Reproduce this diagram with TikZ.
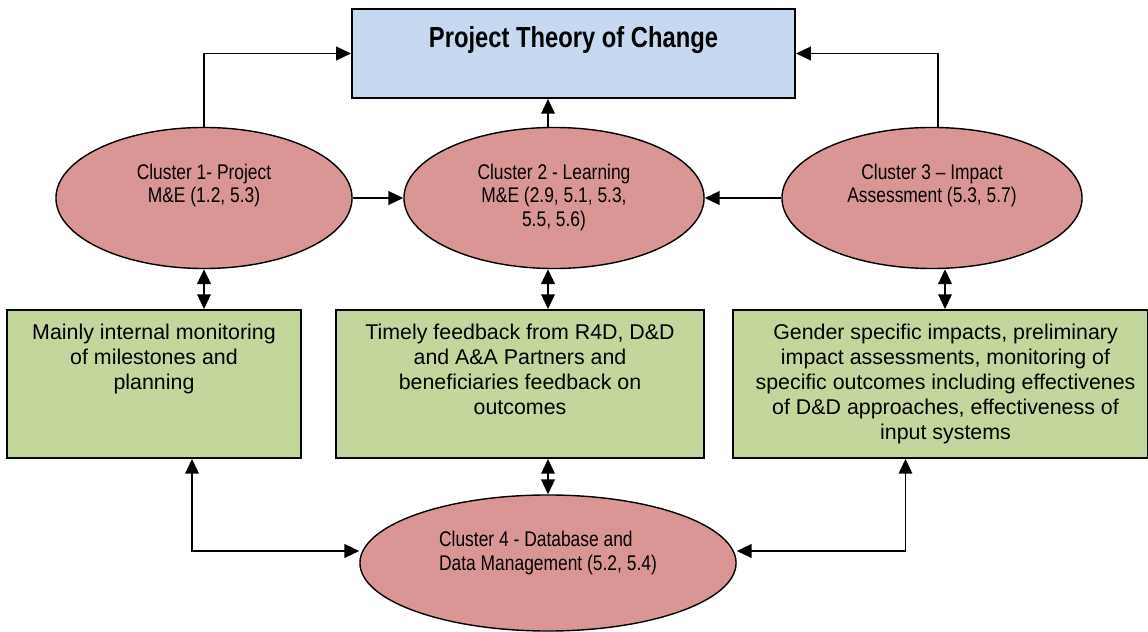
\documentclass[tikz,border=0pt]{standalone}
\usepackage{fontspec}
\setmainfont{Liberation Sans}
\newfontfamily\narrowfont[FakeStretch=0.82]{Liberation Sans}
\usepackage{xcolor}
\usetikzlibrary{positioning,arrows.meta,shapes.geometric}
\definecolor{tocblue}{HTML}{C6D9F1}
\definecolor{clusterred}{HTML}{D99694}
\definecolor{findgreen}{HTML}{C3D69B}

\begin{document}
\begin{tikzpicture}[x=0.025cm, y=0.025cm,
    cluster/.style={ellipse, draw, line width=1pt, fill=clusterred, minimum height=3.525cm, inner sep=0pt},
    clustertext/.style={inner sep=0pt, align=center, font=\narrowfont\fontsize{15.1}{16.6}\selectfont},
    findbox/.style={rectangle, draw, line width=1.3pt, fill=findgreen, minimum height=3.7cm, inner sep=0pt},
    findtext/.style={inner sep=0pt, align=center, font=\fontsize{15.2}{17.8}\selectfont},
    link/.style={line width=1.25pt, -{Triangle[length=0.37cm, width=0.34cm]}},
    twoway/.style={line width=1.25pt, {Triangle[length=0.37cm, width=0.34cm]}-{Triangle[length=0.37cm, width=0.34cm]}}]
    \useasboundingbox (0,0) rectangle (1148,631);

    % Theory of change
    \node[draw, line width=1.3pt, fill=tocblue, minimum width=11.075cm, minimum height=2.225cm] (toc) at (573.5,577.5) {};
    \node[inner sep=0pt, font=\narrowfont\bfseries\fontsize{20.6}{24}\selectfont, below=0.45cm of toc.north] (toctext) {Project Theory of Change};

    % Clusters
    \node[cluster, minimum width=7.4cm] (c1) at (204,433) {};
    \node[clustertext, below=0.925cm of c1.north] (c1text) {Cluster 1- Project\\M\&E (1.2, 5.3)};
    \node[cluster, minimum width=7.5cm] (c2) at (554,433) {};
    \node[clustertext, below=0.925cm of c2.north] (c2text) {Cluster 2 - Learning\\M\&E (2.9, 5.1, 5.3,\\5.5, 5.6)};
    \node[cluster, minimum width=7.5cm] (c3) at (932,433) {};
    \node[clustertext, below=0.925cm of c3.north] (c3text) {Cluster 3 – Impact\\Assessment (5.3, 5.7)};
    \node[cluster, minimum width=9.4cm, minimum height=3.4cm] (c4) at (548,68) {};
    \node[clustertext, align=left, below=0.925cm of c4.north] (c4text) {Cluster 4 - Database and\\Data Management (5.2, 5.4)};

    % Findings
    \node[findbox, minimum width=7.35cm] (g1) at (154,247) {};
    \node[findtext, below=0.375cm of g1.north] (g1text) {Mainly internal monitoring\\of milestones and\\planning};
    \node[findbox, minimum width=9.2cm] (g2) at (520,247) {};
    \node[findtext, below=0.375cm of g2.north] (g2text) {Timely feedback from R4D, D\&D\\and A\&A Partners and\\beneficiaries feedback on\\outcomes};
    \node[findbox, minimum width=10.375cm] (g3) at (940.5,247) {};
    \node[findtext, below=0.375cm of g3.north, xshift=0.125cm] (g3text) {Gender specific impacts, preliminary\\impact assessments, monitoring of\\specific outcomes including effectivenes\\of D\&D approaches, effectiveness of\\input systems};

    % Links to the theory of change
    \draw[link] (c1.north) |- (toc.west);
    \draw[link] ([xshift=0.15cm]c3.north) |- (toc.east);
    \draw[link] (c2.north -| c4.north) -- (toc.south -| c4.north);
    \draw[link] (c1.east) -- (c2.west);
    \draw[link] (c3.west) -- (c2.east);

    % Clusters and findings
    \draw[twoway] (c1.south) -- (c1.south |- g1.north);
    \draw[twoway] (c2.south -| c4.north) -- (g2.north -| c4.north);
    \draw[twoway] ([xshift=0.325cm]c3.south) -- ([xshift=0.325cm]c3.south |- g3.north);
    \draw[twoway] (g2.south -| c4.north) -- (c4.north);
    \draw[twoway] ([xshift=0.95cm]g1.south) |- ([yshift=0.3cm]c4.west);
    \draw[twoway] ([xshift=-0.875cm]g3.south) |- ([yshift=0.3cm]c4.east);
\end{tikzpicture}
\end{document}
